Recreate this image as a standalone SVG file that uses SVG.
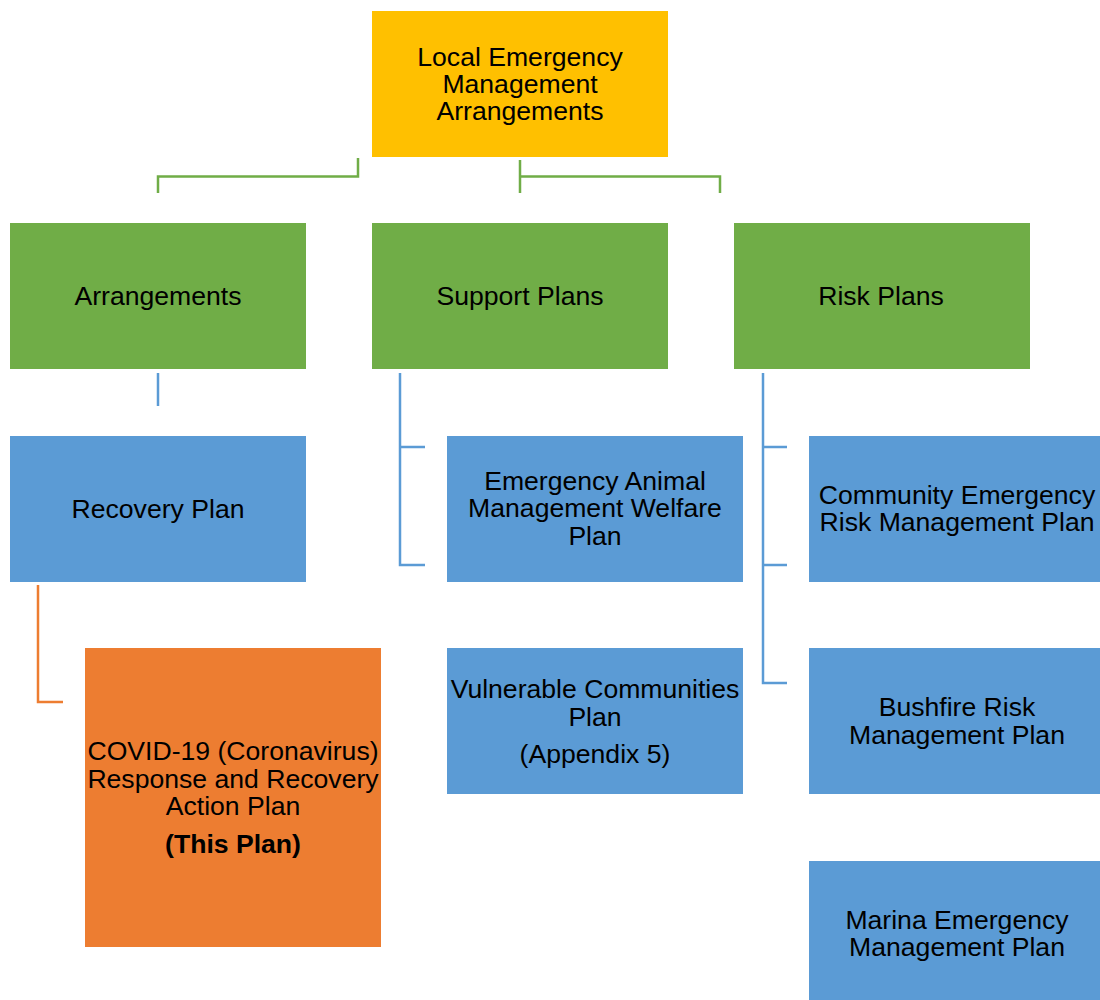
<svg xmlns="http://www.w3.org/2000/svg" width="1100" height="1000" viewBox="0 0 1100 1000">
<style>
text{font-family:"Liberation Sans",Arial,sans-serif;font-size:26.6px;fill:#000;text-anchor:middle}
.gold{fill:#FFC000}
.green{fill:#70AD47}
.blue{fill:#5B9BD5}
.orange{fill:#ED7D31}
.cg{stroke:#70AD47;stroke-width:2.5;fill:none}
.cb{stroke:#5B9BD5;stroke-width:2.5;fill:none}
.co{stroke:#ED7D31;stroke-width:2.5;fill:none}
.b{font-weight:bold}
</style>
<rect width="1100" height="1000" fill="#fff"/>
<g id="connectors">
<path class="cg" d="M358,158 V176.5 H158 V193"/>
<path class="cg" d="M520,160 V193 M520,176.5 H720 V193"/>
<path class="cb" d="M158,373 V406"/>
<path class="cb" d="M400,373 V565 H425 M400,447 H425"/>
<path class="cb" d="M763,373 V683 H787 M763,447 H787 M763,565 H787"/>
<path class="co" d="M38,585 V702 H63"/>
</g>
<g id="lema">
<rect class="gold" x="372" y="11" width="296" height="146"/>
<text x="520" y="66">Local Emergency</text>
<text x="520" y="93">Management</text>
<text x="520" y="120">Arrangements</text>
</g>
<g id="arrangements">
<rect class="green" x="10" y="223" width="296" height="146"/>
<text x="158" y="305">Arrangements</text>
</g>
<g id="support">
<rect class="green" x="372" y="223" width="296" height="146"/>
<text x="520" y="305">Support Plans</text>
</g>
<g id="risk">
<rect class="green" x="734" y="223" width="296" height="146"/>
<text x="881" y="305">Risk Plans</text>
</g>
<g id="recovery">
<rect class="blue" x="10" y="436" width="296" height="146"/>
<text x="158" y="518">Recovery Plan</text>
</g>
<g id="animal">
<rect class="blue" x="447" y="436" width="296" height="146"/>
<text x="595" y="490">Emergency Animal</text>
<text x="595" y="517">Management Welfare</text>
<text x="595" y="545">Plan</text>
</g>
<g id="community">
<rect class="blue" x="809" y="436" width="296" height="146"/>
<text x="957" y="504">Community Emergency</text>
<text x="957" y="531">Risk Management Plan</text>
</g>
<g id="vulnerable">
<rect class="blue" x="447" y="648" width="296" height="146"/>
<text x="595" y="698">Vulnerable Communities</text>
<text x="595" y="726">Plan</text>
<text x="595" y="763">(Appendix 5)</text>
</g>
<g id="bushfire">
<rect class="blue" x="809" y="648" width="296" height="146"/>
<text x="957" y="716">Bushfire Risk</text>
<text x="957" y="744">Management Plan</text>
</g>
<g id="marina">
<rect class="blue" x="809" y="861" width="296" height="146"/>
<text x="957" y="929">Marina Emergency</text>
<text x="957" y="956">Management Plan</text>
</g>
<g id="covid">
<rect class="orange" x="85" y="648" width="296" height="299"/>
<text x="233" y="760">COVID-19 (Coronavirus)</text>
<text x="233" y="788">Response and Recovery</text>
<text x="233" y="815">Action Plan</text>
<text class="b" x="233" y="853">(This Plan)</text>
</g>
</svg>
